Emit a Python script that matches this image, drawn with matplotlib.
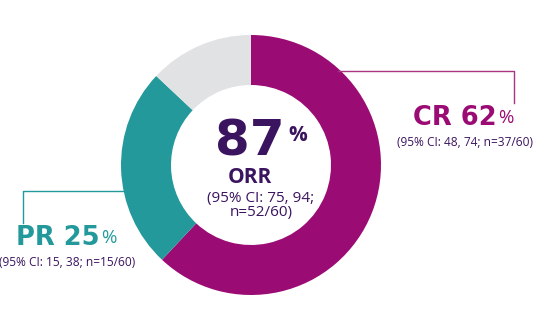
import matplotlib.pyplot as plt

# response breakdown (percent of patients)
labels = ['CR', 'PR', 'Other']
values = [62, 25, 13]
colors = ['#9b0b74', '#23999b', '#e1e2e4']

orr = 87
orr_ci = '(95% CI: 75, 94;\nn=52/60)'
cr_ci = '(95% CI: 48, 74; n=37/60)'
pr_ci = '(95% CI: 15, 38; n=15/60)'

W, H = 538, 330
purple = '#3b1460'
font = 'Open Sans'
big = 'DejaVu Sans'

fig = plt.figure(figsize=(W / 100, H / 100), dpi=100)
ax = fig.add_axes([0, 0, 1, 1])

# donut, clockwise from 12 o'clock; center/radius in pixel units (y up)
ax.pie(values, colors=colors, startangle=90, counterclock=False,
       radius=130, center=(251, H - 165), wedgeprops=dict(width=50, linewidth=0))

ax.set_xlim(0, W)
ax.set_ylim(0, H)
ax.set_aspect('equal')
ax.axis('off')

# connectors
ax.plot([338, 514, 514], [H - 71, H - 71, H - 103], color='#a8357f', lw=1)
ax.plot([23, 23, 135], [H - 223, H - 191, H - 191], color='#23999b', lw=1, zorder=0)

# centre label
ax.text(285, H - 155, str(orr), ha='right', va='baseline', fontsize=36,
        fontweight='bold', color=purple, family=big)
ax.text(288, H - 141, '%', ha='left', va='baseline', fontsize=15,
        fontweight='bold', color=purple, family=font)
ax.text(250, H - 183, 'ORR', ha='center', va='baseline', fontsize=15,
        fontweight='bold', color=purple, family=font)
ax.text(261, H - 191, orr_ci, ha='center', va='top', fontsize=11,
        color=purple, family=font, linespacing=0.95)

# CR label
ax.text(497, H - 125, 'CR %d' % values[0], ha='right', va='baseline', fontsize=18.5,
        fontweight='bold', color=colors[0], family=big)
ax.text(498, H - 123, '%', ha='left', va='baseline', fontsize=13.5,
        color=colors[0], family=font)
ax.text(465, H - 146, cr_ci, ha='center', va='baseline', fontsize=8.6,
        color=purple, family=font)

# PR label
ax.text(100, H - 245, 'PR %d' % values[1], ha='right', va='baseline', fontsize=18.5,
        fontweight='bold', color=colors[1], family=big)
ax.text(101, H - 243, '%', ha='left', va='baseline', fontsize=13.5,
        color=colors[1], family=font)
ax.text(67, H - 266, pr_ci, ha='center', va='baseline', fontsize=8.6,
        color=purple, family=font)

fig.savefig('out.png', dpi=100)
